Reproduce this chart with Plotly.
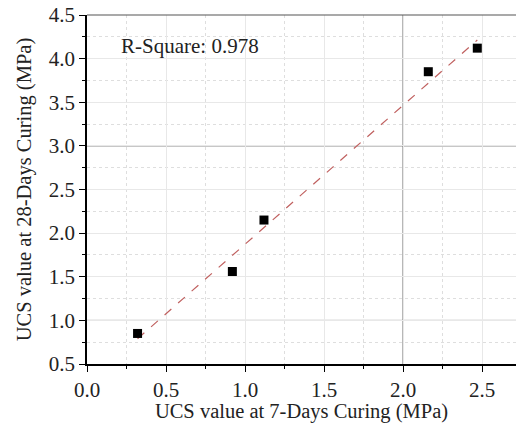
import numpy as np
import plotly.graph_objects as go

# Data
ucs_7d = [0.32, 0.92, 1.12, 2.16, 2.47]
ucs_28d = [0.85, 1.56, 2.15, 3.85, 4.12]
r_square_label = "R-Square: 0.978"
x_ticks = [0.0, 0.5, 1.0, 1.5, 2.0, 2.5]
y_ticks = [0.5, 1.0, 1.5, 2.0, 2.5, 3.0, 3.5, 4.0, 4.5]

slope, intercept = np.polyfit(ucs_7d, ucs_28d, 1)
fit_x = [min(ucs_7d), max(ucs_7d)]
fit_y = [slope * v + intercept for v in fit_x]

FONT = "Liberation Serif, Times New Roman, serif"

fig = go.Figure()
fig.add_trace(go.Scatter(x=fit_x, y=fit_y, mode="lines",
                         line=dict(color="#c0605f", width=1.2, dash="dash"),
                         showlegend=False, hoverinfo="skip"))
fig.add_trace(go.Scatter(x=ucs_7d, y=ucs_28d, mode="markers",
                         marker=dict(symbol="square", size=9, color="black"),
                         showlegend=False))

# darker gridlines
for yv in [1.0, 3.0]:
    fig.add_shape(type="line", xref="paper", yref="y", x0=0, x1=1, y0=yv, y1=yv,
                  line=dict(color="#6a6a6a", width=1), layer="between")
fig.add_shape(type="line", xref="x", yref="paper", x0=2.0, x1=2.0, y0=0, y1=1,
              line=dict(color="#6a6a6a", width=1), layer="between")
# top border
fig.add_shape(type="line", xref="paper", yref="paper", x0=0, x1=1, y0=1, y1=1,
              line=dict(color="#555555", width=1.2))

fig.add_annotation(x=0.2, y=4.14, xref="x", yref="y", text=r_square_label,
                   showarrow=False, xanchor="left", yanchor="middle",
                   font=dict(family=FONT, size=21, color="#222222"))

fig.update_xaxes(range=[0, 2.715], tickvals=x_ticks, automargin=False,
                 ticktext=[f"{v:.1f}" for v in x_ticks],
                 showline=True, linecolor="black", linewidth=1.5,
                 ticks="outside", ticklen=6, tickcolor="black", tickwidth=1.3,
                 minor=dict(dtick=0.25, ticks="outside", ticklen=3, tickcolor="black",
                            showgrid=True, gridcolor="#dedede", griddash="dot", gridwidth=1),
                 showgrid=True, gridcolor="#e8e8e8", gridwidth=1,
                 zeroline=False,
                 title=dict(text="UCS value at 7-Days Curing (MPa)",
                            font=dict(family=FONT, size=20.5, color="#222222"), standoff=9),
                 tickfont=dict(family=FONT, size=21, color="#222222"))
fig.update_yaxes(range=[0.5, 4.5], tickvals=y_ticks, automargin=False,
                 ticktext=[f"{v:.1f}" for v in y_ticks],
                 showline=True, linecolor="black", linewidth=1.5,
                 ticks="outside", ticklen=6, tickcolor="black", tickwidth=1.3,
                 minor=dict(dtick=0.25, tick0=0.25, ticks="outside", ticklen=3, tickcolor="black",
                            showgrid=True, gridcolor="#dedede", griddash="dot", gridwidth=1),
                 showgrid=True, gridcolor="#e8e8e8", gridwidth=1,
                 zeroline=False,
                 title=dict(text="UCS value at 28-Days Curing (MPa)",
                            font=dict(family=FONT, size=20.5, color="#222222"), standoff=12),
                 tickfont=dict(family=FONT, size=21, color="#222222"))

fig.update_layout(width=516, height=423,
                  margin=dict(l=87, r=0, t=15, b=59),
                  plot_bgcolor="white", paper_bgcolor="white")

fig.write_html("out.html")
